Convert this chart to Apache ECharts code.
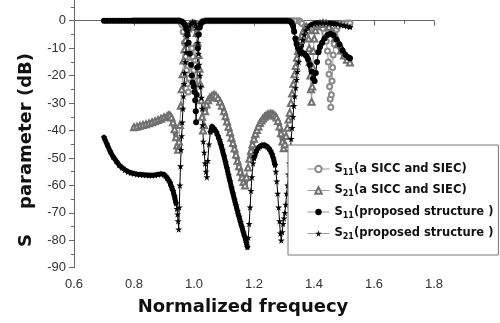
<!DOCTYPE html>
<html>
<head>
<meta charset="utf-8">
<script src="https://cdn.jsdelivr.net/npm/echarts@6/dist/echarts.min.js"></script>
<style>
  html, body { margin: 0; padding: 0; background: #fff; }
  #chart { width: 500px; height: 323px; }
</style>
</head>
<body>
<div id="chart"></div>
<script>
// S-parameter curves, [normalized freq, dB]
const s11Ref = [
  [0.80, 0], [0.81, 0], [0.82, 0], [0.83, 0], [0.84, 0], [0.85, 0], [0.86, 0], [0.87, 0],
  [0.88, 0], [0.89, 0], [0.90, 0], [0.91, 0], [0.92, 0], [0.93, 0], [0.94, 0], [0.95, 0],
  [0.955, -0.5], [0.96, -1.5], [0.964, -4], [0.968, -8], [0.972, -13], [0.975, -18], [0.978, -23],
  [0.981, -26], [0.984, -21], [0.987, -15], [0.99, -11], [0.993, -10], [0.996, -13], [0.999, -18],
  [1.002, -22], [1.005, -16], [1.008, -9], [1.011, -4.5], [1.015, -2], [1.02, -0.8], [1.03, -0.2],
  [1.04, 0], [1.05, 0], [1.06, 0], [1.07, 0], [1.08, 0], [1.09, 0], [1.10, 0], [1.11, 0],
  [1.12, 0], [1.13, 0], [1.14, 0], [1.15, 0], [1.16, 0], [1.17, 0], [1.18, 0], [1.19, 0],
  [1.20, 0], [1.21, 0], [1.22, 0], [1.23, 0], [1.24, 0], [1.25, 0], [1.26, 0], [1.27, 0],
  [1.28, 0], [1.29, 0], [1.30, 0], [1.31, 0], [1.32, 0], [1.33, 0], [1.34, 0], [1.35, 0],
  [1.355, -0.4], [1.36, -1], [1.37, -2], [1.38, -3], [1.39, -3.5], [1.40, -3], [1.41, -2.2],
  [1.42, -2], [1.43, -2.8], [1.436, -4.5], [1.441, -7.5], [1.445, -11], [1.448, -15], [1.45, -19.5],
  [1.452, -24], [1.454, -28.5], [1.456, -31.5], [1.458, -27], [1.46, -22], [1.462, -17],
  [1.464, -12.5], [1.467, -8.5], [1.47, -5.5], [1.475, -3.2], [1.48, -2], [1.49, -1.2],
  [1.50, -0.9], [1.51, -0.8], [1.52, -0.8]
];

const s21Ref = [
  [0.80, -38.8], [0.81, -38.6], [0.82, -38.3], [0.83, -38], [0.84, -37.7], [0.85, -37.4],
  [0.86, -37], [0.87, -36.6], [0.88, -36.2], [0.89, -35.7], [0.90, -35.2], [0.91, -34.8],
  [0.915, -34.5], [0.92, -34.5], [0.925, -35.3], [0.93, -37], [0.935, -39.5], [0.94, -42.5],
  [0.944, -45.5], [0.947, -47], [0.95, -44], [0.953, -38], [0.956, -31], [0.959, -25],
  [0.962, -19.5], [0.965, -14.5], [0.968, -10.5], [0.972, -7], [0.976, -4.5], [0.98, -2.8],
  [0.985, -1.7], [0.99, -1.2], [0.995, -1], [1.0, -1.2], [1.005, -2.2], [1.009, -4.5],
  [1.012, -8], [1.015, -12.5], [1.018, -17.5], [1.021, -23], [1.024, -29], [1.027, -35],
  [1.03, -40], [1.033, -38], [1.037, -33], [1.042, -30.5], [1.047, -29], [1.053, -28],
  [1.06, -27.3], [1.067, -27], [1.073, -27.3], [1.08, -28.2], [1.087, -29.5], [1.093, -31],
  [1.10, -33], [1.105, -34.8], [1.11, -36.7], [1.115, -38.6], [1.12, -40.6], [1.125, -42.6],
  [1.13, -44.6], [1.135, -46.6], [1.14, -48.8], [1.145, -51], [1.15, -53], [1.155, -55],
  [1.16, -57], [1.165, -58.8], [1.17, -60], [1.175, -57], [1.18, -53.5], [1.185, -50.3],
  [1.19, -47.4], [1.195, -45], [1.20, -43], [1.205, -41.2], [1.21, -39.8], [1.215, -38.5],
  [1.22, -37.3], [1.225, -36.4], [1.23, -35.6], [1.235, -35], [1.24, -34.6], [1.245, -34.3],
  [1.25, -34.1], [1.255, -34], [1.26, -34], [1.265, -34.2], [1.27, -34.6], [1.275, -35.3],
  [1.28, -36.5], [1.285, -38.5], [1.29, -41], [1.295, -44], [1.299, -46.5], [1.303, -45],
  [1.307, -42], [1.311, -39], [1.315, -36], [1.319, -33.5], [1.323, -30], [1.327, -26.5],
  [1.331, -23], [1.335, -19.5], [1.339, -16.5], [1.343, -13.5], [1.347, -11], [1.351, -9],
  [1.355, -7], [1.36, -5.2], [1.365, -3.8], [1.37, -2.8], [1.375, -2.3], [1.379, -3.5],
  [1.382, -6.5], [1.384, -10], [1.386, -15], [1.388, -20], [1.39, -25], [1.392, -29.5],
  [1.394, -24], [1.396, -17], [1.398, -11], [1.401, -6.5], [1.405, -3.5], [1.41, -2],
  [1.42, -1.2], [1.43, -0.8], [1.44, -1], [1.45, -2.2], [1.46, -4], [1.47, -6.3],
  [1.48, -8.6], [1.49, -10.8], [1.50, -12.7], [1.51, -14.2], [1.52, -15.2]
];

const s11Prop = [
  [0.70, 0], [0.71, 0], [0.72, 0], [0.73, 0], [0.74, 0], [0.75, 0], [0.76, 0], [0.77, 0],
  [0.78, 0], [0.79, 0], [0.80, 0], [0.81, 0], [0.82, 0], [0.83, 0], [0.84, 0], [0.85, 0],
  [0.86, 0], [0.87, 0], [0.88, 0], [0.89, 0], [0.90, 0], [0.91, 0], [0.92, 0], [0.93, 0],
  [0.94, 0], [0.95, 0], [0.96, -0.3], [0.965, -0.8], [0.97, -1.5], [0.974, -3], [0.978, -5],
  [0.982, -8], [0.986, -12], [0.99, -16], [0.993, -20], [0.996, -22.5], [0.999, -24],
  [1.002, -26], [1.004, -29], [1.006, -33], [1.007, -37], [1.009, -27], [1.011, -17],
  [1.013, -10], [1.016, -5], [1.019, -2.5], [1.023, -1], [1.03, -0.3],
  [1.04, 0], [1.05, 0], [1.06, 0], [1.07, 0], [1.08, 0], [1.09, 0], [1.10, 0], [1.11, 0],
  [1.12, 0], [1.13, 0], [1.14, 0], [1.15, 0], [1.16, 0], [1.17, 0], [1.18, 0], [1.19, 0],
  [1.20, 0], [1.21, 0], [1.22, 0], [1.23, 0], [1.24, 0], [1.25, 0], [1.26, 0], [1.27, 0],
  [1.28, 0], [1.29, 0], [1.30, 0], [1.31, 0], [1.32, -0.2], [1.325, -0.7], [1.33, -1.8],
  [1.334, -4], [1.338, -6.5], [1.342, -8.5], [1.347, -10], [1.353, -11], [1.36, -11.6],
  [1.367, -12], [1.374, -12.8], [1.38, -14], [1.386, -16], [1.392, -18.5], [1.397, -21],
  [1.402, -22], [1.406, -19], [1.41, -15], [1.415, -11.5], [1.42, -9.5], [1.427, -8],
  [1.435, -6.5], [1.445, -5.2], [1.455, -4.7], [1.465, -5.3], [1.475, -6.8], [1.485, -8.7],
  [1.495, -10.8], [1.505, -12.5], [1.515, -13.4], [1.52, -13.7]
];

const s21Prop = [
  [0.70, -42.5], [0.71, -45], [0.72, -47.5], [0.73, -49.5], [0.74, -51], [0.75, -52.5],
  [0.76, -53.5], [0.77, -54.3], [0.78, -55], [0.79, -55.4], [0.80, -55.7], [0.81, -55.9],
  [0.82, -56], [0.83, -56.1], [0.84, -56.2], [0.85, -56.3], [0.86, -56.3], [0.87, -56.2],
  [0.88, -56], [0.89, -55.8], [0.90, -56], [0.905, -56.5], [0.91, -57.2], [0.915, -58],
  [0.92, -59], [0.925, -60.5], [0.93, -62], [0.935, -64], [0.94, -66.5], [0.943, -68.5],
  [0.945, -70.5], [0.947, -73], [0.949, -76], [0.951, -68], [0.953, -60], [0.955, -53],
  [0.957, -47], [0.959, -42], [0.961, -37], [0.963, -32], [0.965, -27.5], [0.967, -23],
  [0.969, -19], [0.971, -15], [0.973, -11.5], [0.975, -8.5], [0.978, -5.5], [0.981, -3.5],
  [0.985, -2], [0.99, -1], [0.995, -0.6], [1.0, -0.6], [1.004, -1.2], [1.008, -2.5],
  [1.011, -5], [1.013, -8], [1.015, -12], [1.017, -16], [1.02, -20], [1.022, -24],
  [1.025, -28], [1.027, -32], [1.029, -38], [1.031, -44], [1.034, -48], [1.037, -52],
  [1.04, -55], [1.043, -57], [1.046, -51], [1.05, -45], [1.055, -40.5], [1.06, -38.5],
  [1.065, -39], [1.07, -39.8], [1.075, -40.7], [1.08, -42], [1.085, -43.5], [1.09, -45.3],
  [1.095, -47.2], [1.10, -49.3], [1.105, -51.5], [1.11, -53.8], [1.115, -56.2], [1.12, -58.5],
  [1.125, -60.8], [1.13, -63], [1.135, -65.2], [1.14, -67.3], [1.145, -69.4], [1.15, -71.4],
  [1.155, -73.4], [1.16, -75.3], [1.165, -77.2], [1.17, -79], [1.175, -81], [1.178, -82.5],
  [1.181, -79], [1.184, -74], [1.187, -68], [1.19, -62], [1.193, -57], [1.197, -52],
  [1.20, -50], [1.205, -48.2], [1.21, -47], [1.215, -46.2], [1.22, -45.7], [1.225, -45.4],
  [1.23, -45.3], [1.235, -45.3], [1.24, -45.5], [1.245, -45.9], [1.25, -46.5], [1.255, -47.4],
  [1.26, -48.6], [1.265, -50.2], [1.27, -52.5], [1.273, -55], [1.276, -58.5], [1.279, -63],
  [1.282, -68], [1.285, -73], [1.288, -77.5], [1.291, -80], [1.294, -77], [1.297, -74],
  [1.30, -72], [1.303, -70], [1.306, -67], [1.309, -63], [1.312, -60], [1.315, -56],
  [1.318, -52], [1.321, -47.5], [1.324, -43], [1.327, -39], [1.33, -35], [1.333, -31],
  [1.336, -27.5], [1.339, -24.5], [1.342, -21.5], [1.345, -18.5], [1.349, -15], [1.353, -12],
  [1.357, -9.5], [1.362, -7], [1.367, -5], [1.373, -3.5], [1.38, -2.3], [1.39, -1.5],
  [1.40, -1], [1.41, -0.8], [1.42, -0.7], [1.43, -0.7], [1.44, -0.8], [1.45, -0.9],
  [1.46, -1.0], [1.47, -1.1], [1.48, -1.2], [1.49, -1.4], [1.50, -1.6], [1.51, -1.9], [1.52, -2.2]
];

const seriesNames = ['S11(a SICC and SIEC)', 'S21(a SICC and SIEC)', 'S11(proposed structure )', 'S21(proposed structure )'];

const FONT = '"Liberation Sans", Arial, sans-serif';
const BOLD = '"DejaVu Sans", sans-serif';
const STAR = 'path://M50,0 L61,35 L98,35 L68,57 L79,91 L50,70 L21,91 L32,57 L2,35 L39,35 Z';

// the original traces were sampled very densely, so slowly varying parts
// look like a solid thick line; steep parts show single markers
const PX_PER_DB = 247 / 90;
const PX_PER_F = 360 / 1.2;
function slowParts(data, maxSlope) {
  const out = [];
  for (let i = 0; i < data.length - 1; i++) {
    const a = data[i], b = data[i + 1];
    const slope = Math.abs((b[1] - a[1]) * PX_PER_DB) / ((b[0] - a[0]) * PX_PER_F);
    if (slope <= maxSlope) {
      if (out[out.length - 1] !== a) out.push(a);
      out.push(b);
    } else {
      out.push([(a[0] + b[0]) / 2, '-']);
    }
  }
  return out;
}

function band(data, color, width) {
  return {
    type: 'line',
    data: slowParts(data, 5.5),
    symbol: 'none',
    silent: true,
    connectNulls: false,
    lineStyle: {color: color, width: width, cap: 'round', join: 'round'}
  };
}

const chart = echarts.init(document.getElementById('chart'));

chart.setOption({
  animation: false,
  backgroundColor: '#fff',
  grid: {left: 74, right: 66, top: -6.7, bottom: 55.3, outerBoundsMode: 'none'},
  legend: {
    data: seriesNames,
    orient: 'vertical',
    left: 288,
    top: 145,
    padding: [18, 5, 14, 19],
    itemGap: 8,
    itemWidth: 22,
    itemHeight: 8,
    backgroundColor: '#fff',
    borderColor: '#777',
    borderWidth: 1,
    lineStyle: {color: '#999', width: 1},
    formatter: name => {
      const m = name.match(/^S(\d\d)(.*)$/);
      return '{m|S}{s|' + m[1] + '}{m|' + m[2] + '}';
    },
    textStyle: {
      fontFamily: BOLD,
      rich: {
        m: {fontSize: 11.5, fontWeight: 'bold', color: '#111', fontFamily: BOLD},
        s: {fontSize: 8, fontWeight: 'bold', color: '#111', fontFamily: BOLD, padding: [7, 0, 0, 0]}
      }
    }
  },
  xAxis: {
    type: 'value',
    min: 0.6,
    max: 1.8,
    interval: 0.2,
    axisLine: {lineStyle: {color: '#666', width: 1}},
    axisTick: {show: true, length: 5, lineStyle: {color: '#666'}},
    minorTick: {show: true, splitNumber: 2, length: 3, lineStyle: {color: '#666'}},
    splitLine: {show: false},
    axisLabel: {
      margin: 10,
      color: '#333',
      fontSize: 13,
      fontFamily: FONT,
      formatter: v => v.toFixed(1)
    }
  },
  yAxis: {
    type: 'value',
    min: -90,
    max: 10,
    interval: 10,
    axisLine: {show: true, lineStyle: {color: '#666', width: 1}},
    axisTick: {show: true, length: 5, lineStyle: {color: '#666'}},
    minorTick: {show: true, splitNumber: 2, length: 3, lineStyle: {color: '#666'}},
    splitLine: {show: false},
    axisLabel: {
      margin: 8,
      color: '#333',
      fontSize: 13,
      fontFamily: FONT,
      formatter: v => (v > 0 ? '' : String(v))
    }
  },
  graphic: [
    {
      type: 'text',
      x: 26,
      y: 150,
      rotation: Math.PI / 2,
      style: {
        text: 'S    parameter (dB)',
        font: 'bold 18px ' + BOLD,
        fill: '#111',
        align: 'center',
        verticalAlign: 'middle'
      }
    },
    {
      type: 'text',
      x: 243,
      y: 307,
      style: {
        text: 'Normalized frequecy',
        font: 'bold 18px ' + BOLD,
        fill: '#111',
        align: 'center',
        verticalAlign: 'middle'
      }
    }
  ],
  series: [
    band(s11Ref, '#777', 4),
    band(s21Ref, '#6a6a6a', 5),
    {
      name: seriesNames[0],
      type: 'line',
      data: s11Ref,
      symbol: 'emptyCircle',
      symbolSize: 5,
      showSymbol: true,
      showAllSymbol: true,
      itemStyle: {color: '#8a8a8a', borderWidth: 1},
      lineStyle: {color: '#999', width: 1}
    },
    {
      name: seriesNames[1],
      type: 'line',
      data: s21Ref,
      symbol: 'emptyTriangle',
      symbolSize: 6,
      showSymbol: true,
      showAllSymbol: true,
      itemStyle: {color: '#707070', borderWidth: 1},
      lineStyle: {color: '#999', width: 1}
    },
    band(s11Prop, '#000', 5),
    band(s21Prop, '#000', 5),
    {
      name: seriesNames[2],
      type: 'line',
      data: s11Prop,
      symbol: 'circle',
      symbolSize: 6,
      showSymbol: true,
      showAllSymbol: true,
      itemStyle: {color: '#000'},
      lineStyle: {color: '#000', width: 1}
    },
    {
      name: seriesNames[3],
      type: 'line',
      data: s21Prop,
      symbol: STAR,
      symbolSize: 7,
      showSymbol: true,
      showAllSymbol: true,
      itemStyle: {color: '#000'},
      lineStyle: {color: '#000', width: 1}
    }
  ]
});
</script>
</body>
</html>
